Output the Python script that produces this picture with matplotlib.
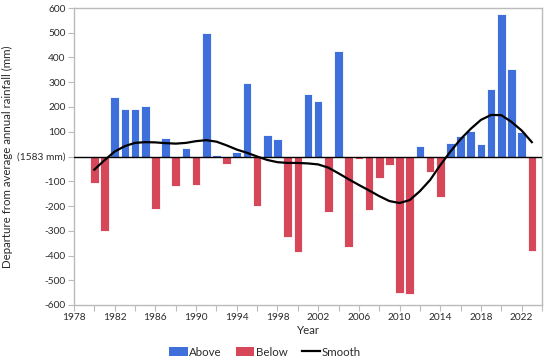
import matplotlib
matplotlib.use("Agg")
import matplotlib.pyplot as plt
from matplotlib.patches import Patch
from matplotlib.lines import Line2D
import numpy as np

years = list(range(1980, 2024))
departure = [-109, -300, 240, 193, 193, 203, -213, 75, -118, 35,
             -114, 500, 5, -32, 19, 298, -202, 86, 71, -325,
             -387, 253, 225, -226, 425, -366, -12, -218, -85, -36,
             -551, -556, 44, -63, -162, 55, 84, 102, 51, 273,
             576, 354, 101, -382]
smooth = [-53, -15, 20, 42, 55, 58, 57, 54, 52, 55,
          62, 66, 60, 45, 28, 15, 0, -14, -23, -26,
          -26, -28, -32, -45, -68, -92, -115, -137, -160, -180,
          -188, -176, -140, -95, -35, 20, 70, 112, 148, 168,
          167, 140, 105, 58]
yticks = [600, 500, 400, 300, 200, 100, 0, -100, -200, -300, -400, -500, -600]
ytick_labels = ["600", "500", "400", "300", "200", "100", "(1583 mm)",
                "-100", "-200", "-300", "-400", "-500", "-600"]
xticks = list(range(1978, 2023, 4))
legend_labels = ["Above", "Below", "Smooth"]

BLUE = "#3F6FDA"
RED = "#D6475A"
GRID = "#BBBBBB"
TXT = "#2A2A2A"

plt.rcParams['font.family'] = ['Lato', 'DejaVu Sans']

fig = plt.figure(figsize=(5.5, 3.61), dpi=100)
ax = fig.add_axes([74/550, 1-305/361, (542-74)/550, (305-8)/361])

colors = [BLUE if v >= 0 else RED for v in departure]
ax.bar(years, departure, width=0.85, color=colors, edgecolor="white", linewidth=0.6, zorder=2)
ax.axhline(0, color="black", linewidth=1.0, zorder=3)
ax.plot(years, smooth, color="black", linewidth=1.6, zorder=4)

ax.set_xlim(1978, 2024)
ax.set_ylim(-600, 600)
ax.set_yticks(yticks)
ax.set_yticklabels(ytick_labels)
ax.set_xticks(xticks)
ax.set_xticks(list(range(1978, 2025, 2)), minor=True)

for s in ax.spines.values():
    s.set_color(GRID)
    s.set_linewidth(1.0)
ax.tick_params(axis='both', which='both', colors=GRID, labelcolor=TXT, labelsize=7.3, length=4, width=0.8)
ax.tick_params(axis='y', pad=2)
ax.tick_params(axis='x', pad=2)

ax.set_xlabel("Year", fontsize=8.3, color=TXT, labelpad=2)
ax.set_ylabel("Departure from average annual rainfall (mm)", fontsize=8.3, color=TXT)
ax.yaxis.set_label_coords((13 - 74) / 468, 0.5)

handles = [Patch(facecolor=BLUE, edgecolor="none"),
           Patch(facecolor=RED, edgecolor="none"),
           Line2D([0], [0], color="black", linewidth=1.6)]
fig.legend(handles, legend_labels, loc="center", bbox_to_anchor=(265/550, 1-352/361),
           ncol=3, frameon=False, fontsize=8.3, handlelength=1.6, handleheight=0.8,
           columnspacing=1.2, handletextpad=0.15, labelcolor=TXT, borderpad=0)

fig.savefig("out.png", dpi=100)
